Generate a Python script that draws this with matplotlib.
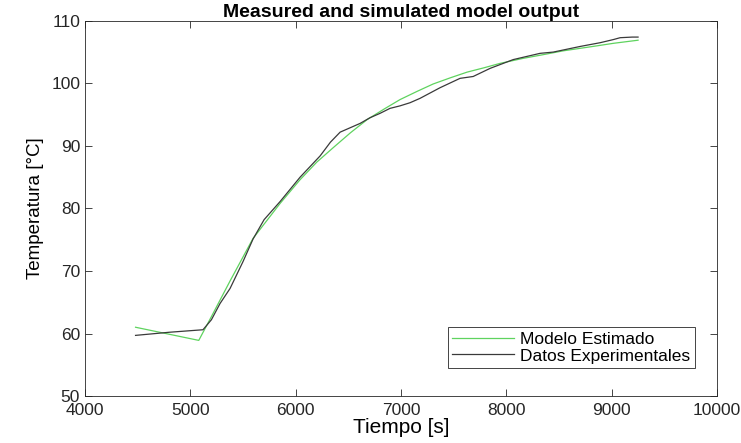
import matplotlib
matplotlib.use("Agg")
import matplotlib.pyplot as plt

plt.rcParams['font.family'] = ['Liberation Sans', 'DejaVu Sans']

# Modelo estimado (verde)
t_mod = [4480, 5080, 5200, 5377, 5595, 5852, 6042, 6200, 6355, 6520, 6678, 6840,
         6990, 7150, 7305, 7470, 7628, 7790, 7941, 8160, 8385, 8540, 8700, 8860,
         9015, 9250]
y_mod = [61.0, 58.9, 62.7, 68.4, 75.2, 80.8, 84.6, 87.4, 89.7, 92.1, 94.2, 95.9,
         97.4, 98.7, 99.9, 100.9, 101.8, 102.5, 103.2, 104.0, 104.7, 105.2, 105.6,
         106.0, 106.4, 106.9]

# Datos experimentales (negro)
t_exp = [4480, 4800, 5120, 5200, 5282, 5377, 5500, 5595, 5700, 5852, 6042, 6232,
         6330, 6422, 6517, 6612, 6705, 6800, 6895, 6990, 7085, 7180, 7370, 7560,
         7685, 7846, 8065, 8320, 8445, 8700, 8890, 9015, 9080, 9195, 9250]
y_exp = [59.7, 60.2, 60.6, 62.2, 64.8, 67.2, 71.5, 75.1, 78.2, 81.1, 85.0, 88.4,
         90.6, 92.2, 92.9, 93.6, 94.5, 95.2, 96.0, 96.4, 96.9, 97.6, 99.3, 100.8,
         101.1, 102.4, 103.8, 104.8, 105.0, 105.9, 106.5, 107.0, 107.3, 107.4, 107.4]

fig = plt.figure(figsize=(7.41, 4.43), dpi=100)
ax = fig.add_axes([0.1147, 0.106, 0.853, 0.847])

ax.plot(t_mod, y_mod, color='#5fd35f', linewidth=0.9, label='Modelo Estimado')
ax.plot(t_exp, y_exp, color='#3a3a3a', linewidth=0.9, label='Datos Experimentales')

ax.set_xlim(4000, 10000)
ax.set_ylim(50, 110)
ax.set_xticks(range(4000, 10001, 1000))
ax.set_yticks(range(50, 111, 10))

ax.tick_params(direction='in', top=True, right=True, labelsize=12.5,
               colors='#262626', length=5, width=0.6)
ax.tick_params(axis='x', pad=5)
for s in ax.spines.values():
    s.set_color('#262626')
    s.set_linewidth(0.6)

ax.set_title('Measured and simulated model output', fontsize=14,
             fontweight='bold', pad=2.5)
ax.set_xlabel('Tiempo [s]', fontsize=15, labelpad=0)
ax.set_ylabel('Temperatura [°C]', fontsize=13.5, labelpad=5)

leg = ax.legend(loc='lower right', bbox_to_anchor=(0.965, 0.075), fontsize=12.5,
                fancybox=False, framealpha=1, edgecolor='#262626',
                handlelength=3.6, borderpad=0.25, labelspacing=0.1,
                handletextpad=0.35, borderaxespad=0)
leg.get_frame().set_linewidth(0.6)

fig.savefig('out.png', dpi=100)
